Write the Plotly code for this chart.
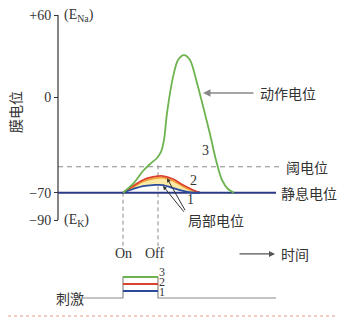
import plotly.graph_objects as go

# ---------------- data ----------------
# time axis (arbitrary units), membrane potential (mV)
t_on, t_off = 123, 158
t_axis_start, t_axis_end = 58, 276
resting = -70
threshold = -51
e_na, e_k = 60, -90

ytick_vals = [60, 0, -70, -90]
ytick_text = ["+60", "0", "\u221270", "\u221290"]

# curve 3: action potential
t3 = [123, 133, 143, 150, 157, 161, 164, 167, 173, 178, 184, 190, 197, 204, 210, 216, 222, 228, 234]
v3 = [-70, -63.6, -54.1, -49.0, -44.6, -40.2, -31.4, -11.7, 14.6, 27.1, 30.7, 27.1, 10.3, -9.5, -27.1, -46.1, -60.7, -67.3, -70]

# curves 1 and 2: local potentials
t_loc = [123, 133, 143, 153, 163, 173, 183, 193, 200]
v2 = [-70, -65.1, -60.7, -58.5, -57.8, -60.0, -64.4, -68.0, -70]
v2b = [-70, -66.0, -61.8, -59.7, -59.0, -61.2, -65.4, -68.7, -70]
v1 = [-70, -67.3, -65.1, -64.4, -64.4, -66.6, -68.7, -70, -70]

# stimulus (arbitrary units)
stim_t = [83, 123, 123, 158, 158, 276]
stim_base = [0, 0, 3, 3, 0, 0]
stim_levels = [1, 2, 3]
stim_label_pos = [0.86, 2.3, 3.7]
stim_colors = ["#2b4a9c", "#d9432e", "#6db34f"]

# ---------------- figure ----------------
SERIF = "Liberation Serif, Times New Roman, serif"
CJK = "Noto Sans CJK SC"
TXT = "#333333"

fig = go.Figure()

# threshold dashed line
fig.add_trace(go.Scatter(x=[t_axis_start, 282], y=[threshold, threshold], mode="lines",
                         line=dict(color="#8a8a8a", width=1.2, dash="5px,4px"), hoverinfo="skip"))
# On / Off dashed verticals
fig.add_trace(go.Scatter(x=[t_on, t_on], y=[resting, -109], mode="lines",
                         line=dict(color="#8a8a8a", width=1, dash="4px,3px"), hoverinfo="skip"))
fig.add_trace(go.Scatter(x=[t_off, t_off], y=[threshold + 1, -109], mode="lines",
                         line=dict(color="#8a8a8a", width=1, dash="4px,3px"), hoverinfo="skip"))

# y axis line
fig.add_trace(go.Scatter(x=[t_axis_start, t_axis_start], y=[e_na, e_k], mode="lines",
                         line=dict(color=TXT, width=1.2), hoverinfo="skip"))

# yellow band between curve 2 and curve 1
fig.add_trace(go.Scatter(x=t_loc, y=v1, mode="lines", line=dict(color="rgba(0,0,0,0)", width=0,
                         shape="spline"), hoverinfo="skip"))
fig.add_trace(go.Scatter(x=t_loc, y=v2b, mode="lines", fill="tonexty", fillcolor="#fbeaa6",
                         line=dict(color="#f3a335", width=1.6, shape="spline"), hoverinfo="skip"))
fig.add_trace(go.Scatter(x=t_loc, y=v2, mode="lines",
                         line=dict(color="#d9432e", width=1.8, shape="spline"), hoverinfo="skip"))

# resting line
fig.add_trace(go.Scatter(x=[t_axis_start, t_axis_end], y=[resting, resting], mode="lines",
                         line=dict(color="#2b3a84", width=2), hoverinfo="skip"))
# curve 1
fig.add_trace(go.Scatter(x=t_loc, y=v1, mode="lines",
                         line=dict(color="#2b4a9c", width=1.8, shape="spline"), hoverinfo="skip"))
# curve 3
fig.add_trace(go.Scatter(x=t3, y=v3, mode="lines",
                         line=dict(color="#6db34f", width=1.8, shape="spline", smoothing=0.8),
                         hoverinfo="skip"))

# stimulus
fig.add_trace(go.Scatter(x=stim_t, y=stim_base, mode="lines", yaxis="y2",
                         line=dict(color="#8a8a8a", width=1.2), hoverinfo="skip"))
for lv, c in zip(stim_levels, stim_colors):
    fig.add_trace(go.Scatter(x=[t_on, t_off], y=[lv, lv], mode="lines", yaxis="y2",
                             line=dict(color=c, width=1.8), hoverinfo="skip"))

ann = []
def txt(x, y, s, size=14, font=CJK, xanchor="left", yref="y", angle=0, color=TXT):
    ann.append(dict(x=x, y=y, xref="x", yref=yref, text=s, showarrow=False,
                    xanchor=xanchor, yanchor="middle", textangle=angle,
                    font=dict(family=font, size=size, color=color)))

txt(62, e_na, "(E<sub>Na</sub>)", 14, SERIF)
txt(62, e_k, "(E<sub>K</sub>)", 14, SERIF)
txt(15, -11, "膜电位", 14, CJK, "center", angle=-90)
txt(258, 3, "动作电位")
txt(284, threshold, "阈电位")
txt(279, resting, "静息电位")
txt(186, -90, "局部电位")
txt(205, -38.8, "3", 14, SERIF, "center")
txt(193, -60.7, "2", 14, SERIF, "center")
txt(190, -75.3, "1", 14, SERIF, "center")
txt(t_on, -114.5, "On", 14, SERIF, "center")
txt(155, -114.5, "Off", 14, SERIF, "center")
txt(279, -114.5, "时间")
txt(54, 0, "刺激", 14, CJK, yref="y2")
for lv, p in zip(stim_levels, stim_label_pos):
    txt(162, p, str(lv), 12, SERIF, "center", yref="y2")

# arrows
ann.append(dict(x=203, y=3, ax=255, ay=3, xref="x", yref="y", axref="x", ayref="y",
                showarrow=True, arrowhead=2, arrowsize=1, arrowwidth=1.5, arrowcolor="#888888", text=""))
ann.append(dict(x=275, y=-114.8, ax=238, ay=-114.8, xref="x", yref="y", axref="x", ayref="y",
                showarrow=True, arrowhead=2, arrowsize=1, arrowwidth=1.2, arrowcolor="#555555", text=""))
ann.append(dict(x=167, y=-59.5, ax=186, ay=-84, xref="x", yref="y", axref="x", ayref="y",
                showarrow=True, arrowhead=2, arrowsize=0.8, arrowwidth=1, arrowcolor="#333333", text=""))
ann.append(dict(x=163, y=-65, ax=185, ay=-85, xref="x", yref="y", axref="x", ayref="y",
                showarrow=True, arrowhead=2, arrowsize=0.8, arrowwidth=1, arrowcolor="#333333", text=""))

# bottom dotted rule
shapes = [dict(type="line", xref="x", yref="paper", x0=8, x1=335, y0=1 - 316 / 322, y1=1 - 316 / 322,
               line=dict(color="#e49a86", width=1, dash="dot"))]

fig.update_layout(
    width=351, height=322, margin=dict(l=0, r=0, t=0, b=0),
    paper_bgcolor="white", plot_bgcolor="white", showlegend=False,
    annotations=ann, shapes=shapes,
    xaxis=dict(range=[0, 351], visible=False, domain=[0, 1]),
    yaxis=dict(range=[-164.6, 71.0], domain=[0, 1], anchor="free", position=58 / 351,
               showgrid=False, zeroline=False, showline=False,
               tickvals=ytick_vals, ticktext=ytick_text, ticks="outside", ticklen=4,
               tickcolor=TXT, tickwidth=1.2,
               tickfont=dict(family=SERIF, size=14, color=TXT)),
    yaxis2=dict(range=[-3.43, 42.57], overlaying="y", visible=False),
)

fig.write_html("out.html")
